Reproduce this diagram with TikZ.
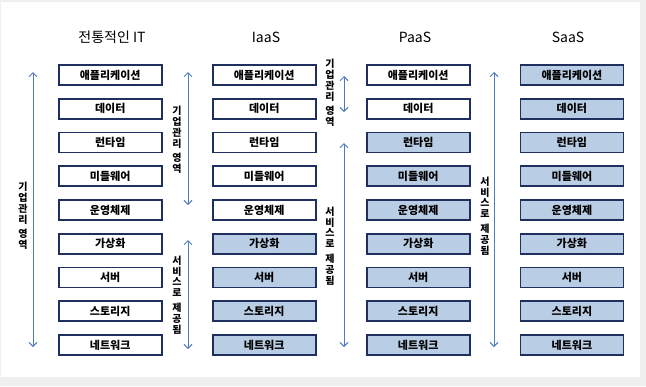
\documentclass[tikz,border=0pt]{standalone}
\usepackage{fontspec}
\newfontfamily\kr{Noto Sans CJK KR}
\usetikzlibrary{arrows.meta}
\definecolor{navy}{HTML}{1F2F5E}
\definecolor{lblue}{HTML}{B9CDE5}
\definecolor{ablue}{HTML}{4F7BC0}
\definecolor{frame}{HTML}{EFEFEF}
\tikzset{
  layer/.style={draw=navy, line width=1.6pt, fill=white, minimum width=103pt, minimum height=20pt, inner sep=0pt,
    font=\kr\bfseries\fontsize{11}{13}\selectfont},
  svc/.style={layer, fill=lblue},
  ttl/.style={font=\kr\fontsize{14}{16}\selectfont, inner sep=0pt},
  span/.style={draw=ablue, line width=0.9pt, {Straight Barb[length=4pt,width=8pt]}-{Straight Barb[length=4pt,width=8pt]}},
  vlab/.style={font=\kr\bfseries\fontsize{10}{10.8}\selectfont, align=center, inner sep=0pt}
}
\begin{document}
\begin{tikzpicture}[x=1pt,y=-1pt]
\fill[frame] (0,0) rectangle (646,386);
\fill[white] (1,2) rectangle (640,377);
\useasboundingbox (0,0) rectangle (646,386);

% titles
\node[ttl] (t1) at (112,37) {전통적인 IT};
\node[ttl] (t2) at (266,37) {IaaS};
\node[ttl] (t3) at (415,37) {PaaS};
\node[ttl] (t4) at (568,37) {SaaS};

% columns
\def\rowy#1{75+33.75*#1}
% column 1: traditional IT
\foreach \lab [count=\i from 0] in {애플리케이션,데이터,런타임,미들웨어,운영체제,가상화,서버,스토리지,네트워크}{
  \node[layer] (a\i) at (110.2,{75+33.75*\i}) {\lab};
}
% column 2: IaaS
\foreach \lab [count=\i from 0] in {애플리케이션,데이터,런타임,미들웨어,운영체제}{
  \node[layer] (b\i) at (264.2,{75+33.75*\i}) {\lab};
}
\foreach \lab [count=\i from 5] in {가상화,서버,스토리지,네트워크}{
  \node[svc] (b\i) at (264.2,{75+33.75*\i}) {\lab};
}
% column 3: PaaS
\foreach \lab [count=\i from 0] in {애플리케이션,데이터}{
  \node[layer] (c\i) at (418.2,{75+33.75*\i}) {\lab};
}
\foreach \lab [count=\i from 2] in {런타임,미들웨어,운영체제,가상화,서버,스토리지,네트워크}{
  \node[svc] (c\i) at (418.2,{75+33.75*\i}) {\lab};
}
% column 4: SaaS
\foreach \lab [count=\i from 0] in {애플리케이션,데이터,런타임,미들웨어,운영체제,가상화,서버,스토리지,네트워크}{
  \node[svc] (d\i) at (571.9,{75+33.75*\i}) {\lab};
}

% arrows
\coordinate (p1t) at (33,72);  \coordinate (p1b) at (33,347);
\coordinate (p2t) at (188,72); \coordinate (p2b) at (188,205);
\coordinate (p3t) at (188,240); \coordinate (p3b) at (188,349);
\coordinate (p4t) at (344,76); \coordinate (p4b) at (344,112);
\coordinate (p5t) at (344,143); \coordinate (p5b) at (344,347);
\coordinate (p6t) at (494,72); \coordinate (p6b) at (494,347);
\draw[span] (p1t) -- (p1b);
\draw[span] (p2t) -- (p2b);
\draw[span] (p3t) -- (p3b);
\draw[span] (p4t) -- (p4b);
\draw[span] (p5t) -- (p5b);
\draw[span] (p6t) -- (p6b);

% vertical labels
\node[vlab] (l1) at (23,216) {기\\업\\관\\리\\[4pt]영\\역};
\node[vlab] (l2) at (177,140) {기\\업\\관\\리\\[4pt]영\\역};
\node[vlab] (l3) at (177,295) {서\\비\\스\\로\\[4pt]제\\공\\됨};
\node[vlab] (l4) at (330,93) {기\\업\\관\\리\\[4pt]영\\역};
\node[vlab] (l5) at (330,246) {서\\비\\스\\로\\[4pt]제\\공\\됨};
\node[vlab] (l6) at (485,216) {서\\비\\스\\로\\[4pt]제\\공\\됨};
\end{tikzpicture}
\end{document}
